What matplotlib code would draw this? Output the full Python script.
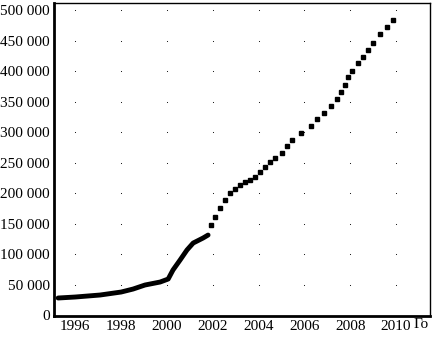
import numpy as np
import matplotlib
matplotlib.use('Agg')
import matplotlib.pyplot as plt
from matplotlib.ticker import FuncFormatter

# dense early part (drawn as a thick line)
early_years = [1995.26, 1996.0, 1997.09, 1998.01, 1998.53, 1999.05, 1999.71,
               2000.06, 2000.27, 2000.58, 2000.88, 2001.15, 2001.58, 2001.80]
early_vals = [27900, 29500, 32800, 37700, 42600, 49200, 54100,
              59000, 73800, 90200, 106600, 118000, 126200, 131100]

# later sparse points (square markers)
late_years = [2001.93, 2002.11, 2002.32, 2002.54, 2002.76, 2002.98, 2003.20,
              2003.41, 2003.63, 2003.85, 2004.07, 2004.29, 2004.50, 2004.72,
              2005.03, 2005.25, 2005.46, 2005.86, 2006.29, 2006.55, 2006.86,
              2007.16, 2007.43, 2007.60, 2007.78, 2007.91, 2008.08, 2008.34,
              2008.56, 2008.78, 2009.00, 2009.30, 2009.61, 2009.87]
late_vals = [147500, 160700, 175400, 188500, 200000, 206600, 213100,
             218000, 221300, 226200, 234400, 242600, 250800, 257400,
             265600, 277000, 286900, 298400, 309800, 321300, 331100,
             342600, 354100, 365600, 377000, 390200, 400000, 413100,
             423000, 434400, 445900, 460700, 472100, 483600]

x_ticks = [1996, 1998, 2000, 2002, 2004, 2006, 2008, 2010]
y_ticks = [0, 50000, 100000, 150000, 200000, 250000, 300000, 350000, 400000, 450000, 500000]

plt.rcParams['font.family'] = ['Liberation Serif', 'DejaVu Serif']

fig = plt.figure(figsize=(4.32, 3.45), dpi=100)
ax = fig.add_axes([54 / 432, 29 / 345, 376 / 432, 313 / 345])

# faint grid dots at intersections
gx, gy = np.meshgrid(x_ticks, y_ticks[1:])
ax.scatter(gx.ravel(), gy.ravel(), s=0.6, color='black', linewidths=0, zorder=1)

ax.plot(early_years, early_vals, color='black', linewidth=3.5,
        solid_capstyle='round', zorder=3)
ax.plot(late_years, late_vals, linestyle='none', marker='s', markersize=3.3,
        color='black', zorder=3)

ax.set_xlim(1995.08, 2011.48)
ax.set_ylim(-1600, 511500)
ax.set_xticks(x_ticks)
ax.set_yticks(y_ticks)
ax.yaxis.set_major_formatter(FuncFormatter(lambda v, p: f"{int(v):,}".replace(",", " ")))
ax.tick_params(length=0, labelsize=11, pad=3)

ax.spines['left'].set_linewidth(2.0)
ax.spines['bottom'].set_linewidth(2.0)
ax.spines['top'].set_linewidth(1.0)
ax.spines['right'].set_linewidth(1.0)

fig.text(414 / 432, 1 - 325 / 345, "Го", fontsize=11, va='center', ha='left')

plt.savefig("out.png", dpi=100)
plt.close()
